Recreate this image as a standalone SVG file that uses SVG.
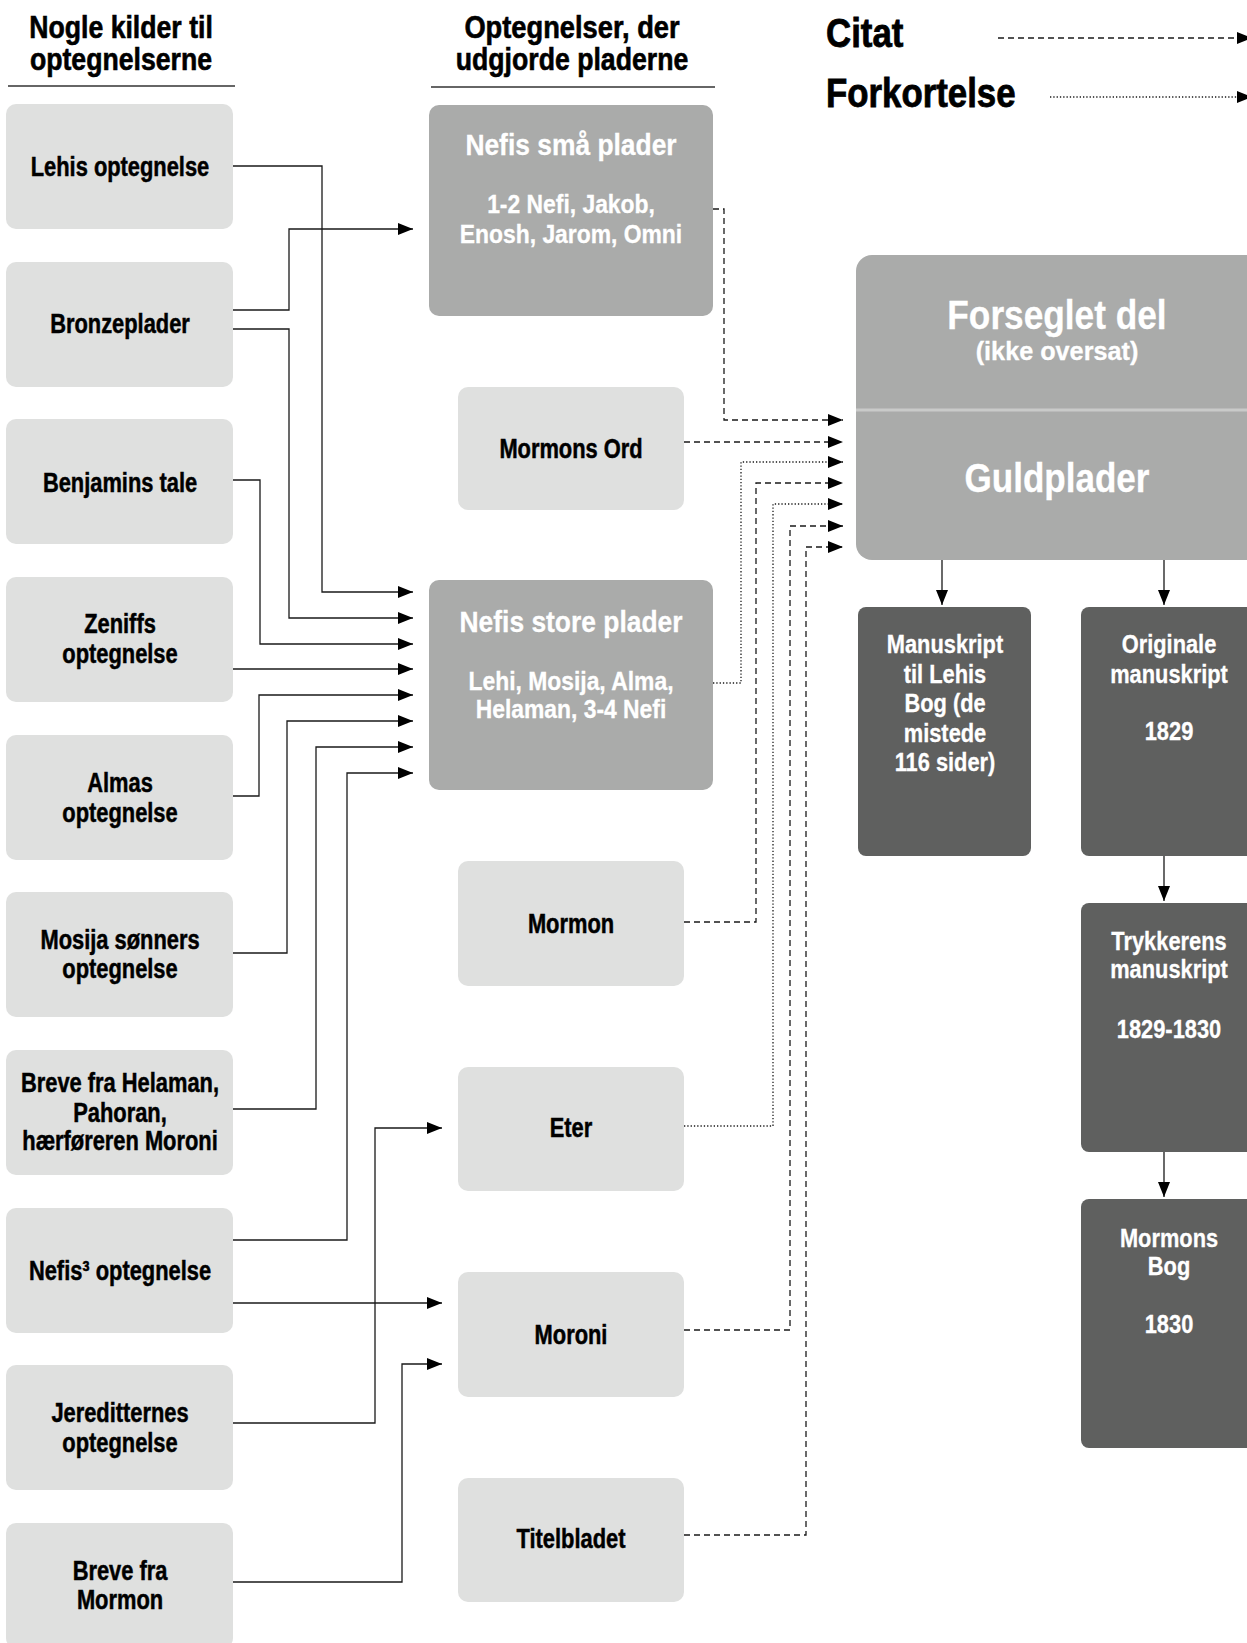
<svg xmlns="http://www.w3.org/2000/svg" width="1247" height="1643" viewBox="0 0 1247 1643">
<style>
text{font-family:'Liberation Sans',Arial,sans-serif;font-weight:bold;text-anchor:middle}
.title{font-size:31px;fill:#000;stroke:#000;stroke-width:0.6}
.legend{font-size:40px;fill:#000;stroke:#000;stroke-width:0.8;text-anchor:start}
.lt{fill:#dfe0df}
.md{fill:#aaabaa}
.dk{fill:#5f605f}
.bl{font-size:27px;fill:#000;stroke:#000;stroke-width:0.5}
.wh{font-size:26px;fill:#fff;stroke:#fff;stroke-width:0.3}
.whh{font-size:30px;fill:#fff;stroke:#fff;stroke-width:0.3}
.whs{font-size:26px;fill:#fff;stroke:#fff;stroke-width:0.3}
.solid{fill:none;stroke:#1a1a1a;stroke-width:1.3}
.dash{fill:none;stroke:#1a1a1a;stroke-width:1.3;stroke-dasharray:6 4}
.dot{fill:none;stroke:#1a1a1a;stroke-width:1.3;stroke-dasharray:1.3 2}
.rule{stroke:#333;stroke-width:1.5}
</style>
<defs>
<marker id="ah" viewBox="0 0 15 12" refX="15" refY="6" markerWidth="15" markerHeight="12" markerUnits="userSpaceOnUse" orient="auto">
<path d="M0,0 L15,6 L0,12 z" fill="#000"/>
</marker>
</defs>

<g id="headers">
<text class="title" transform="translate(121 38) scale(.86 1)">Nogle kilder til</text>
<text class="title" transform="translate(121 70) scale(.86 1)">optegnelserne</text>
<line class="rule" x1="8" y1="86" x2="235" y2="86"/>
<text class="title" transform="translate(572 38) scale(.88 1)">Optegnelser, der</text>
<text class="title" transform="translate(572 70) scale(.86 1)">udgjorde pladerne</text>
<line class="rule" x1="431" y1="87" x2="715" y2="87"/>
</g>

<g id="legend">
<text class="legend" transform="translate(826 47) scale(.87 1)">Citat</text>
<text class="legend" transform="translate(826 107) scale(.87 1)">Forkortelse</text>
<path class="dash" d="M998,38 H1252" marker-end="url(#ah)"/>
<path class="dot" d="M1050,97 H1252" marker-end="url(#ah)"/>
</g>

<g id="connectors">
<path class="solid" d="M233,166 H322 V592 H413" marker-end="url(#ah)"/>
<path class="solid" d="M233,310 H289 V229 H413" marker-end="url(#ah)"/>
<path class="solid" d="M233,329 H289 V618 H413" marker-end="url(#ah)"/>
<path class="solid" d="M233,480 H260 V644 H413" marker-end="url(#ah)"/>
<path class="solid" d="M233,669 H413" marker-end="url(#ah)"/>
<path class="solid" d="M233,796 H259 V695 H413" marker-end="url(#ah)"/>
<path class="solid" d="M233,953 H287 V721 H413" marker-end="url(#ah)"/>
<path class="solid" d="M233,1109 H316 V747 H413" marker-end="url(#ah)"/>
<path class="solid" d="M233,1240 H347 V773 H413" marker-end="url(#ah)"/>
<path class="solid" d="M233,1303 H442" marker-end="url(#ah)"/>
<path class="solid" d="M233,1423 H375 V1128 H442" marker-end="url(#ah)"/>
<path class="solid" d="M233,1582 H402 V1364 H442" marker-end="url(#ah)"/>

<path class="dash" d="M713,209 H724 V420 H843" marker-end="url(#ah)"/>
<path class="dash" d="M684,442 H843" marker-end="url(#ah)"/>
<path class="dot" d="M713,683 H741 V462 H843" marker-end="url(#ah)"/>
<path class="dash" d="M684,922 H756 V483 H843" marker-end="url(#ah)"/>
<path class="dot" d="M684,1126 H773 V504 H843" marker-end="url(#ah)"/>
<path class="dash" d="M684,1330 H790 V526 H843" marker-end="url(#ah)"/>
<path class="dash" d="M684,1535 H806 V547 H843" marker-end="url(#ah)"/>

<path class="solid" d="M942,560 V605" marker-end="url(#ah)"/>
<path class="solid" d="M1164,560 V605" marker-end="url(#ah)"/>
<path class="solid" d="M1164,856 V901" marker-end="url(#ah)"/>
<path class="solid" d="M1164,1152 V1197" marker-end="url(#ah)"/>
</g>

<g id="n-lehi">
<rect class="lt" x="6" y="104" width="227" height="125" rx="10"/>
<text class="bl" transform="translate(120 176) scale(.81 1)">Lehis optegnelse</text>
</g>
<g id="n-bronze">
<rect class="lt" x="6" y="262" width="227" height="125" rx="10"/>
<text class="bl" transform="translate(120 333) scale(.81 1)">Bronzeplader</text>
</g>
<g id="n-benjamin">
<rect class="lt" x="6" y="419" width="227" height="125" rx="10"/>
<text class="bl" transform="translate(120 492) scale(.81 1)">Benjamins tale</text>
</g>
<g id="n-zeniff">
<rect class="lt" x="6" y="577" width="227" height="125" rx="10"/>
<text class="bl" transform="translate(120 633) scale(.81 1)">Zeniffs</text>
<text class="bl" transform="translate(120 663) scale(.81 1)">optegnelse</text>
</g>
<g id="n-alma">
<rect class="lt" x="6" y="735" width="227" height="125" rx="10"/>
<text class="bl" transform="translate(120 792) scale(.81 1)">Almas</text>
<text class="bl" transform="translate(120 822) scale(.81 1)">optegnelse</text>
</g>
<g id="n-mosija">
<rect class="lt" x="6" y="892" width="227" height="125" rx="10"/>
<text class="bl" transform="translate(120 949) scale(.81 1)">Mosija sønners</text>
<text class="bl" transform="translate(120 978) scale(.81 1)">optegnelse</text>
</g>
<g id="n-breve-helaman">
<rect class="lt" x="6" y="1050" width="227" height="125" rx="10"/>
<text class="bl" transform="translate(120 1092) scale(.81 1)">Breve fra Helaman,</text>
<text class="bl" transform="translate(120 1122) scale(.81 1)">Pahoran,</text>
<text class="bl" transform="translate(120 1150) scale(.81 1)">hærføreren Moroni</text>
</g>
<g id="n-nefi3">
<rect class="lt" x="6" y="1208" width="227" height="125" rx="10"/>
<text class="bl" transform="translate(120 1280) scale(.81 1)">Nefis³ optegnelse</text>
</g>
<g id="n-jaredit">
<rect class="lt" x="6" y="1365" width="227" height="125" rx="10"/>
<text class="bl" transform="translate(120 1422) scale(.81 1)">Jereditternes</text>
<text class="bl" transform="translate(120 1452) scale(.81 1)">optegnelse</text>
</g>
<g id="n-breve-mormon">
<rect class="lt" x="6" y="1523" width="227" height="125" rx="10"/>
<text class="bl" transform="translate(120 1580) scale(.81 1)">Breve fra</text>
<text class="bl" transform="translate(120 1609) scale(.81 1)">Mormon</text>
</g>

<g id="n-sma">
<rect class="md" x="429" y="105" width="284" height="211" rx="10"/>
<text class="whh" transform="translate(571 155) scale(.88 1)">Nefis små plader</text>
<text class="whs" transform="translate(571 213) scale(.88 1)">1-2 Nefi, Jakob,</text>
<text class="whs" transform="translate(571 243) scale(.88 1)">Enosh, Jarom, Omni</text>
</g>
<g id="n-mormons-ord">
<rect class="lt" x="458" y="387" width="226" height="123" rx="10"/>
<text class="bl" transform="translate(571 458) scale(.81 1)">Mormons Ord</text>
</g>
<g id="n-store">
<rect class="md" x="429" y="580" width="284" height="210" rx="10"/>
<text class="whh" transform="translate(571 632) scale(.88 1)">Nefis store plader</text>
<text class="whs" transform="translate(571 690) scale(.88 1)">Lehi, Mosija, Alma,</text>
<text class="whs" transform="translate(571 718) scale(.88 1)">Helaman, 3-4 Nefi</text>
</g>
<g id="n-mormon">
<rect class="lt" x="458" y="861" width="226" height="125" rx="10"/>
<text class="bl" transform="translate(571 933) scale(.81 1)">Mormon</text>
</g>
<g id="n-eter">
<rect class="lt" x="458" y="1067" width="226" height="124" rx="10"/>
<text class="bl" transform="translate(571 1137) scale(.81 1)">Eter</text>
</g>
<g id="n-moroni">
<rect class="lt" x="458" y="1272" width="226" height="125" rx="10"/>
<text class="bl" transform="translate(571 1344) scale(.81 1)">Moroni</text>
</g>
<g id="n-titel">
<rect class="lt" x="458" y="1478" width="226" height="124" rx="10"/>
<text class="bl" transform="translate(571 1548) scale(.81 1)">Titelbladet</text>
</g>

<g id="n-guld">
<rect class="md" x="856" y="255" width="420" height="305" rx="16"/>
<line x1="856" y1="410" x2="1247" y2="410" stroke="#c9cac9" stroke-width="3"/>
<text class="whh" style="font-size:41px" transform="translate(1057 329) scale(.86 1)">Forseglet del</text>
<text class="whh" style="font-size:26px" transform="translate(1057 360) scale(.97 1)">(ikke oversat)</text>
<text class="whh" style="font-size:40px" transform="translate(1057 492) scale(.876 1)">Guldplader</text>
</g>

<g id="n-lehi-ms">
<rect class="dk" x="858" y="607" width="173" height="249" rx="8"/>
<text class="wh" transform="translate(945 653) scale(.84 1)">Manuskript</text>
<text class="wh" transform="translate(945 683) scale(.84 1)">til Lehis</text>
<text class="wh" transform="translate(945 712) scale(.84 1)">Bog (de</text>
<text class="wh" transform="translate(945 742) scale(.84 1)">mistede</text>
<text class="wh" transform="translate(945 771) scale(.84 1)">116 sider)</text>
</g>
<g id="n-original">
<rect class="dk" x="1081" y="607" width="180" height="249" rx="8"/>
<text class="wh" transform="translate(1169 653) scale(.84 1)">Originale</text>
<text class="wh" transform="translate(1169 683) scale(.84 1)">manuskript</text>
<text class="wh" transform="translate(1169 740) scale(.84 1)">1829</text>
</g>
<g id="n-trykker">
<rect class="dk" x="1081" y="903" width="180" height="249" rx="8"/>
<text class="wh" transform="translate(1169 950) scale(.84 1)">Trykkerens</text>
<text class="wh" transform="translate(1169 978) scale(.84 1)">manuskript</text>
<text class="wh" transform="translate(1169 1038) scale(.84 1)">1829-1830</text>
</g>
<g id="n-mormons-bog">
<rect class="dk" x="1081" y="1199" width="180" height="249" rx="8"/>
<text class="wh" transform="translate(1169 1247) scale(.84 1)">Mormons</text>
<text class="wh" transform="translate(1169 1275) scale(.84 1)">Bog</text>
<text class="wh" transform="translate(1169 1333) scale(.84 1)">1830</text>
</g>
</svg>
